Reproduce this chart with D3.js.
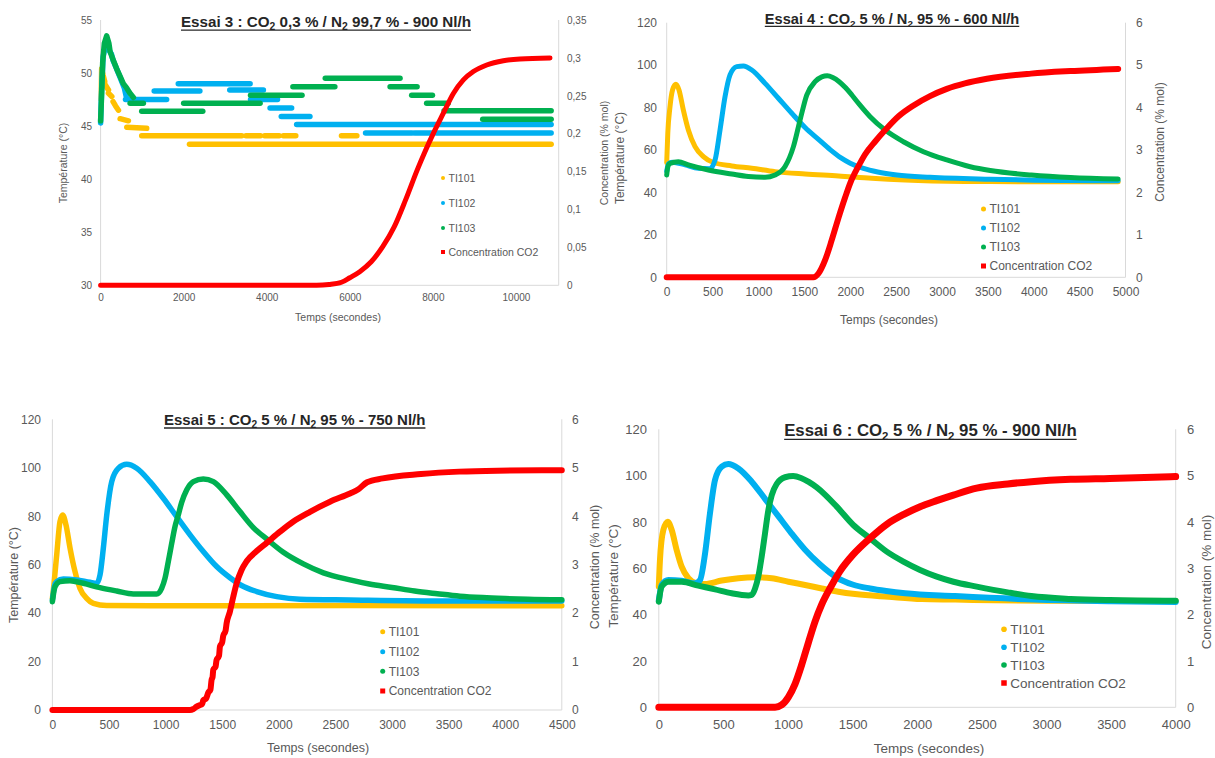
<!DOCTYPE html>
<html><head><meta charset="utf-8">
<script src="https://cdn.jsdelivr.net/npm/d3@7"></script>
<style>
body{margin:0;background:#fff;}
svg text{font-family:"Liberation Sans",Arial,sans-serif;}
</style></head><body>
<svg id="c" width="1215" height="758"></svg>
<script>
// ---------------- DATA ----------------
const seriesNames = ["TI101", "TI102", "TI103", "Concentration CO2"];
const titles = [
  ["Essai 3 : CO", "2", " 0,3 % / N", "2", " 99,7 % - 900 Nl/h"],
  ["Essai 4 : CO", "2", " 5 % / N", "2", " 95 % - 600 Nl/h"],
  ["Essai 5 : CO", "2", " 5 % / N", "2", " 95 % - 750 Nl/h"],
  ["Essai 6 : CO", "2", " 5 % / N", "2", " 95 % - 900 Nl/h"]
];
const xTitle = "Temps (secondes)";
const yTitleLeft = "Température (°C)";
const yTitleRight = "Concentration (% mol)";

const timeTicks3 = [0, 2000, 4000, 6000, 8000, 10000];
const timeTicks4 = [0, 500, 1000, 1500, 2000, 2500, 3000, 3500, 4000, 4500, 5000];
const timeTicks5 = [0, 500, 1000, 1500, 2000, 2500, 3000, 3500, 4000, 4500];
const timeTicks6 = [0, 500, 1000, 1500, 2000, 2500, 3000, 3500, 4000];
const tempTicks3 = [30, 35, 40, 45, 50, 55];
const tempTicks = [0, 20, 40, 60, 80, 100, 120];
const concTicks3 = [0, 0.05, 0.1, 0.15, 0.2, 0.25, 0.3, 0.35];
const concTicks = [0, 1, 2, 3, 4, 5, 6];

// Essai 3 : quantised scatter, stored as bands/pieces [[t, °C], ...]
const essai3_TI101 = [
  [[15,47.5],[25,50.4],[60,49.8],[100,49.2]],
  [[110,48.9],[190,48.4]],
  [[190,48.1],[270,47.8]],
  [[300,47.3],[360,46.9],[430,46.5]],
  [[470,45.7],[670,45.5]],
  [[630,44.9],[1110,44.8]],
  [[990,44.1],[3400,44.1]],
  [[3500,44.1],[3850,44.1]],
  [[3950,44.1],[4300,44.1]],
  [[4400,44.1],[4700,44.1]],
  [[5800,44.1],[6170,44.1]],
  [[2140,43.3],[10848,43.3]]
];
const essai3_TI102 = [
  [[0,45.3],[25,48.5],[60,51.5],[100,52.3],[180,52.3],[260,51.8],[300,51.2],[387,50.4],[479,49.5],[571,48.6],[617,47.8]],
  [[600,47.5],[1590,47.5]],
  [[1290,48.3],[2390,48.3]],
  [[1870,49.0],[3600,49.0]],
  [[3110,48.4],[3920,48.4]],
  [[3610,47.5],[4260,47.5]],
  [[4080,46.7],[4600,46.7]],
  [[4350,45.9],[5040,45.9]],
  [[4720,45.15],[10848,45.15]],
  [[6380,44.35],[7500,44.35]],
  [[7560,44.35],[8000,44.35]],
  [[8080,44.35],[10848,44.35]]
];
const essai3_TI103 = [
  [[0,45.5],[20,47.5],[50,51.0],[90,52.8],[146,53.5],[200,52.8],[230,52.0],[306,51.2],[387,50.4],[467,49.7],[547,49.0],[627,48.6],[708,48.1],[790,47.7]],
  [[710,47.15],[1030,47.15]],
  [[990,46.4],[2460,46.4]],
  [[2000,47.15],[3840,47.15]],
  [[3610,47.9],[4850,47.9]],
  [[4630,48.7],[5640,48.7]],
  [[5410,49.5],[7210,49.5]],
  [[6970,48.7],[7620,48.7]],
  [[7490,47.9],[7990,47.9]],
  [[7850,47.15],[8370,47.15]],
  [[8270,46.45],[10848,46.45]],
  [[9200,45.65],[10848,45.65]]
];
const essai3_CO2 = [[0,0],[5200,0],[5500,0.001],[5800,0.004],[6000,0.01],[6240,0.018],[6516,0.031],[6793,0.051],[7069,0.077],[7346,0.113],[7622,0.152],[7807,0.176],[8012,0.2005],[8253,0.227],[8493,0.253],[8734,0.271],[8975,0.282],[9296,0.2906],[9697,0.2963],[10099,0.2986],[10821,0.2999]];

const essai4_TI101 = [[0,54],[12,68],[35,80],[65,88.5],[100,91],[134,88.3],[181,78.9],[236,69.4],[309,61.6],[400,56.9],[509,54.1],[709,52.5],[927,51.4],[1181,49.8],[1508,48.7],[1872,47.8],[2235,46.7],[2599,45.9],[3250,45.2],[3526,45.1],[4000,45.0],[4920,45.0]];
const essai4_TI102 = [[0,50],[20,53.5],[60,54.2],[200,53.0],[345,51.4],[470,51.2],[527,55.3],[581,69.4],[636,85.2],[690,95.4],[763,99.3],[836,99.6],[927,97.7],[1072,91.4],[1217,84.4],[1363,77.3],[1508,70.6],[1654,65.0],[1781,60.2],[1900,56.3],[2000,53.8],[2144,51.3],[2300,49.6],[2508,48.2],[2871,47.1],[3526,46.2],[4000,45.8],[4920,45.5]];
const essai4_TI103 = [[0,48.2],[15,52.5],[36,53.7],[127,54.5],[236,53.0],[454,50.6],[709,48.7],[890,47.5],[1072,47.1],[1181,48.2],[1290,52.2],[1381,61.6],[1454,74.2],[1526,85.9],[1617,92.2],[1690,94.5],[1750,95.0],[1810,94.2],[1880,92.2],[1950,89.3],[2020,85.8],[2100,81.5],[2217,75.7],[2381,69.4],[2580,63.9],[2798,59.2],[3053,55.3],[3308,52.1],[3526,50.3],[3974,48.2],[4402,47.0],[4920,46.3]];
const essai4_CO2 = [[0,0],[1599,0],[1654,0.09],[1727,0.41],[1799,0.88],[1872,1.40],[1944,1.88],[2000,2.22],[2090,2.62],[2163,2.90],[2272,3.20],[2381,3.47],[2530,3.80],[2690,4.05],[2870,4.27],[3053,4.44],[3250,4.57],[3490,4.68],[3970,4.80],[4400,4.86],[4920,4.91]];

const essai5_TI101 = [[0,46],[10,50.2],[38,64],[67,77.8],[91,80.5],[120,76.4],[156,66.8],[200,57.1],[244,50.2],[303,46.1],[362,44.0],[479,43.1],[862,43.0],[2629,43.1],[4500,43.0]];
const essai5_TI102 = [[0,45.4],[20,51.5],[38,53],[97,54.1],[214,53.7],[332,52.7],[391,52.3],[421,55.8],[450,66.8],[480,80.5],[524,94.3],[583,99.8],[656,101.4],[745,99.8],[862,94.3],[980,87.4],[1098,79.8],[1216,72.3],[1333,65.4],[1451,59.2],[1569,54.6],[1671,51.4],[1805,48.9],[1982,46.8],[2187,45.7],[2629,45.4],[3500,45.0],[4500,45.0]];
const essai5_TI103 = [[0,44.7],[23,50.9],[67,53.0],[155,53.4],[273,52.3],[420,50.5],[568,49.1],[715,47.9],[921,47.9],[965,50.2],[995,54.4],[1024,61.3],[1054,68.8],[1083,75.7],[1112,80.5],[1142,85.7],[1186,90.8],[1245,94.3],[1333,95.4],[1422,94.3],[1540,88.8],[1657,81.9],[1775,75.3],[1893,70.6],[2040,65.1],[2217,60.3],[2394,56.6],[2629,53.7],[2800,52.0],[3000,50.6],[3200,49.1],[3400,48.0],[3600,47.0],[3800,46.4],[4000,46.0],[4200,45.7],[4500,45.5]];
const essai5_CO2 = [[0,0],[1215,0],[1245,0.02],[1274,0.07],[1300,0.10],[1322,0.12],[1333,0.20],[1358,0.24],[1377,0.36],[1396,0.42],[1406,0.62],[1415,0.68],[1421,0.83],[1442,0.90],[1450,1.03],[1472,1.12],[1480,1.31],[1500,1.40],[1509,1.53],[1530,1.64],[1539,1.79],[1568,2.03],[1598,2.34],[1627,2.61],[1671,2.89],[1716,3.07],[1805,3.28],[1893,3.45],[2011,3.68],[2129,3.89],[2276,4.09],[2452,4.30],[2629,4.47],[2700,4.55],[2780,4.70],[2918,4.78],[3256,4.87],[3594,4.92],[3932,4.94],[4500,4.95]];

const essai6_TI101 = [[0,52.1],[9,63.6],[35,76.5],[69,80.1],[100,76.5],[138,67.9],[177,60.7],[229,55.7],[293,53.5],[358,53.2],[487,54.7],[616,55.7],[745,56.1],[874,55.7],[1003,54.2],[1132,52.8],[1261,51.3],[1390,49.9],[1519,48.9],[1777,47.7],[2035,46.7],[2293,46.5],[2600,46.2],[3000,46.0],[4000,45.9]];
const essai6_TI102 = [[0,46],[22,52.8],[74,54.9],[177,54.6],[280,53.5],[319,54.9],[358,66.4],[396,83.7],[435,98.1],[487,103.9],[538,105.0],[616,103.1],[719,97.4],[822,90.0],[925,82.5],[1028,75.0],[1132,68.0],[1248,61.6],[1377,56.0],[1505,52.9],[1635,51.3],[1760,50.2],[1906,49.2],[2293,48.0],[2900,46.5],[3500,45.8],[4000,45.5]];
const essai6_TI103 = [[0,45.6],[22,52.1],[74,54.2],[177,54.2],[306,52.5],[435,50.9],[564,49.2],[693,48.3],[719,48.5],[745,51.3],[770,56.4],[796,65.0],[822,75.1],[848,85.2],[874,91.6],[912,96.4],[977,99.3],[1040,99.8],[1100,99.0],[1160,97.3],[1220,95.0],[1290,91.6],[1377,86.6],[1505,78.7],[1635,72.9],[1764,67.2],[1893,62.9],[2022,59.3],[2151,56.4],[2280,54.2],[2460,52.1],[2700,49.6],[2883,48.0],[3187,46.8],[3490,46.3],[4000,46.0]];
const essai6_CO2 = [[0,0],[900,0],[951,0.05],[1003,0.22],[1054,0.50],[1106,0.92],[1158,1.40],[1209,1.85],[1261,2.22],[1325,2.57],[1400,2.93],[1505,3.30],[1635,3.65],[1764,3.95],[1900,4.17],[2022,4.33],[2150,4.46],[2280,4.58],[2460,4.73],[2700,4.82],[2883,4.87],[3187,4.92],[3490,4.94],[4000,4.98]];

// ---------------- LAYOUT / STYLE ----------------
const colors = ["#FFC000", "#00B0F0", "#00B050", "#FF0000"];
const panels = [
  {title: titles[0], temps: [essai3_TI101, essai3_TI102, essai3_TI103], co2: essai3_CO2, banded: true,
   xTicks: timeTicks3, yTicks: tempTicks3, cTicks: concTicks3, xMax: 11030, yDom: [30, 55], cMax: 0.35,
   x0: 100.6, x1: 558.7, yT: 20, yB: 285.3, tick: 10, padL: 8.6, padR: 8.3, padB: 9.1,
   titleX: 326, titleY: 27, titleF: 15.2, xtX: 338, xtY: 320.5, atF: 10.5,
   ltX: 63, ltY: 163, rtX: 604, rtY: 153,
   legX: 443, legY: [178, 203, 228, 252], legF: 10.5, mr: 2, ms: 4, lw: 5.5, rw: 5},
  {title: titles[1], temps: [essai4_TI101, essai4_TI102, essai4_TI103], co2: essai4_CO2,
   xTicks: timeTicks4, yTicks: tempTicks, cTicks: concTicks, xMax: 5000, yDom: [0, 120], cMax: 6,
   x0: 666.7, x1: 1125.5, yT: 22.7, yB: 277.3, tick: 12, padL: 9.7, padR: 10.5, padB: 10.1,
   titleX: 892, titleY: 23.5, titleF: 14.6, xtX: 889, xtY: 324, atF: 12,
   ltX: 619.6, ltY: 158, rtX: 1160, rtY: 142,
   legX: 983.5, legY: [209, 228, 247, 266], legF: 12, mr: 2.5, ms: 5, lw: 5, rw: 6},
  {title: titles[2], temps: [essai5_TI101, essai5_TI102, essai5_TI103], co2: essai5_CO2,
   xTicks: timeTicks5, yTicks: tempTicks, cTicks: concTicks, xMax: 4500, yDom: [0, 120], cMax: 6,
   x0: 52.4, x1: 561.8, yT: 419.3, yB: 710, tick: 12, padL: 11.4, padR: 10.2, padB: 10.7,
   titleX: 294.7, titleY: 425, titleF: 15, xtX: 318, xtY: 752, atF: 12.5,
   ltX: 13.4, ltY: 575, rtX: 595, rtY: 567,
   legX: 382.7, legY: [631.7, 651.7, 671.3, 691], legF: 12, mr: 2.5, ms: 5, lw: 5.5, rw: 6},
  {title: titles[3], temps: [essai6_TI101, essai6_TI102, essai6_TI103], co2: essai6_CO2,
   xTicks: timeTicks6, yTicks: tempTicks, cTicks: concTicks, xMax: 4000, yDom: [0, 120], cMax: 6,
   x0: 658.8, x1: 1175.7, yT: 429.3, yB: 707.3, tick: 13, padL: 11.8, padR: 11.3, padB: 12,
   titleX: 930.4, titleY: 436, titleF: 16.8, xtX: 929, xtY: 753, atF: 13.5,
   ltX: 613.7, ltY: 576, rtX: 1206, rtY: 582,
   legX: 1004, legY: [629.3, 647.3, 665, 683], legF: 13.5, mr: 2.8, ms: 5.5, lw: 6, rw: 7}
];

const svg = d3.select("#c");
const grayTxt = "#595959";
const axisLine = "#D9D9D9";
const fmtC = v => String(v).replace(".", ",");

panels.forEach(p => {
  const g = svg.append("g");
  const x = d3.scaleLinear().domain([0, p.xMax]).range([p.x0, p.x1]);
  const y = d3.scaleLinear().domain(p.yDom).range([p.yB, p.yT]);
  const yc = d3.scaleLinear().domain([0, p.cMax]).range([p.yB, p.yT]);

  // axis lines
  g.append("line").attr("x1", p.x0).attr("x2", p.x1).attr("y1", p.yB).attr("y2", p.yB).attr("stroke", axisLine);
  g.append("line").attr("x1", p.x0).attr("x2", p.x0).attr("y1", p.yT).attr("y2", p.yB).attr("stroke", axisLine);
  g.append("line").attr("x1", p.x1).attr("x2", p.x1).attr("y1", p.yT).attr("y2", p.yB).attr("stroke", axisLine);

  // axes (labels only)
  const styleAxis = sel => {
    sel.select(".domain").remove();
    sel.selectAll(".tick line").remove();
    sel.selectAll("text").attr("fill", grayTxt).style("font-size", p.tick + "px")
      .style("font-family", '"Liberation Sans", Arial, sans-serif');
  };
  g.append("g").attr("transform", `translate(0,${p.yB})`)
    .call(d3.axisBottom(x).tickValues(p.xTicks).tickSize(0).tickPadding(p.padB).tickFormat(d3.format("d")))
    .call(styleAxis);
  g.append("g").attr("transform", `translate(${p.x0},0)`)
    .call(d3.axisLeft(y).tickValues(p.yTicks).tickSize(0).tickPadding(p.padL).tickFormat(d3.format("d")))
    .call(styleAxis);
  g.append("g").attr("transform", `translate(${p.x1},0)`)
    .call(d3.axisRight(yc).tickValues(p.cTicks).tickSize(0).tickPadding(p.padR).tickFormat(fmtC))
    .call(styleAxis);

  // series
  const clip = "clip" + Math.round(p.x0);
  svg.append("clipPath").attr("id", clip).append("rect")
    .attr("x", p.x0 - 4).attr("y", p.yT - 10).attr("width", p.x1 - p.x0 + 8).attr("height", p.yB - p.yT + 14);
  const plot = g.append("g").attr("clip-path", `url(#${clip})`);
  if (p.banded) {
    const line = d3.line().x(d => x(d[0])).y(d => y(d[1]));
    p.temps.forEach((pieces, i) => {
      plot.selectAll(null).data(pieces).enter().append("path")
        .attr("d", line).attr("fill", "none").attr("stroke", colors[i])
        .attr("stroke-width", p.lw).attr("stroke-linecap", "round").attr("stroke-linejoin", "round");
    });
  } else {
    const line = d3.line().x(d => x(d[0])).y(d => y(d[1])).curve(d3.curveMonotoneX);
    p.temps.forEach((s, i) => {
      plot.append("path").datum(s).attr("d", line).attr("fill", "none").attr("stroke", colors[i])
        .attr("stroke-width", p.lw).attr("stroke-linecap", "round").attr("stroke-linejoin", "round");
    });
  }
  const cline = d3.line().x(d => x(d[0])).y(d => yc(d[1])).curve(d3.curveMonotoneX);
  plot.append("path").datum(p.co2).attr("d", cline).attr("fill", "none").attr("stroke", colors[3])
    .attr("stroke-width", p.rw).attr("stroke-linecap", "round").attr("stroke-linejoin", "round");

  // title with subscripts + underline
  const t = g.append("text").attr("x", p.titleX).attr("y", p.titleY).attr("text-anchor", "middle")
    .style("font-size", p.titleF + "px").style("font-weight", "bold").attr("fill", "#262626");
  p.title.forEach((s, i) => {
    if (i % 2 === 1) {
      t.append("tspan").attr("dy", p.titleF * 0.22).style("font-size", (p.titleF * 0.68) + "px").text(s);
    } else {
      t.append("tspan").attr("dy", i === 0 ? 0 : -p.titleF * 0.22).text(s);
    }
  });
  const bb = t.node().getBBox();
  g.append("line").attr("x1", bb.x).attr("x2", bb.x + bb.width)
    .attr("y1", p.titleY + p.titleF * 0.2).attr("y2", p.titleY + p.titleF * 0.2)
    .attr("stroke", "#262626").attr("stroke-width", p.titleF * 0.085);

  // axis titles
  g.append("text").attr("x", p.xtX).attr("y", p.xtY).attr("text-anchor", "middle")
    .style("font-size", p.atF + "px").attr("fill", grayTxt).text(xTitle);
  g.append("text").attr("transform", `translate(${p.ltX},${p.ltY}) rotate(-90)`).attr("text-anchor", "middle")
    .attr("dy", "0.35em").style("font-size", p.atF + "px").attr("fill", grayTxt).text(yTitleLeft);
  g.append("text").attr("transform", `translate(${p.rtX},${p.rtY}) rotate(-90)`).attr("text-anchor", "middle")
    .attr("dy", "0.35em").style("font-size", p.atF + "px").attr("fill", grayTxt).text(yTitleRight);

  // legend
  seriesNames.forEach((name, i) => {
    const ly = p.legY[i];
    if (i < 3) {
      g.append("circle").attr("cx", p.legX).attr("cy", ly).attr("r", p.mr).attr("fill", colors[i]);
    } else {
      g.append("rect").attr("x", p.legX - p.ms / 2).attr("y", ly - p.ms / 2)
        .attr("width", p.ms).attr("height", p.ms).attr("fill", colors[i]);
    }
    g.append("text").attr("x", p.legX + p.mr + 3.5).attr("y", ly).attr("dy", "0.35em")
      .style("font-size", p.legF + "px").attr("fill", grayTxt).text(name);
  });
});
</script>
</body></html>
